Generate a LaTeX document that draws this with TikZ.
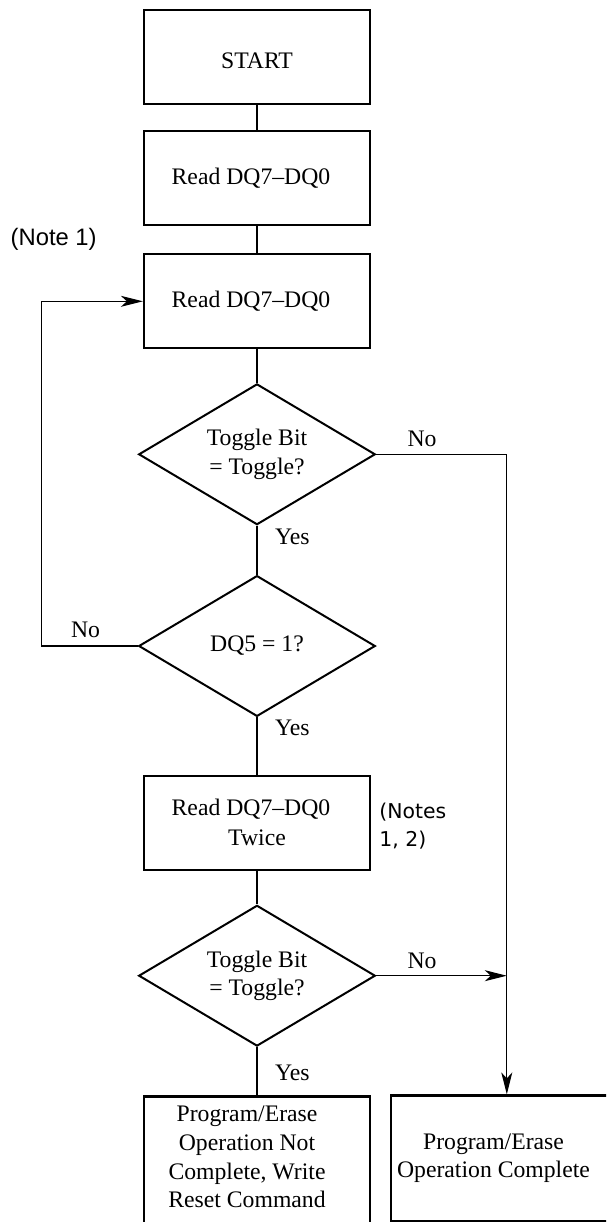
\documentclass[tikz,border=0pt]{standalone}
\usepackage{fontspec}
\setmainfont{Liberation Serif}
\newfontfamily\arialfont{Liberation Sans}
\newfontfamily\dvfont{DejaVu Sans}
\usetikzlibrary{shapes.geometric,arrows.meta}
\begin{document}
\begin{tikzpicture}[x=0.5pt,y=-0.5pt,
  txt/.style={font=\fontsize{11.85pt}{14.3pt}\selectfont, align=center, inner sep=0pt},
  stepbox/.style={txt, draw, line width=1.1pt, minimum width=113pt, minimum height=47pt},
  decision/.style={txt, draw, diamond, line width=1pt, minimum width=118.3pt, minimum height=70.4pt, shape aspect=1.68},
  conn/.style={line width=0.55pt},
  arr/.style={conn, -{Stealth[length=11pt,width=5.5pt,inset=3pt]}},
  lbl/.style={txt},
]
\useasboundingbox (0,0) rectangle (606,1222);
\clip (0,0) rectangle (606,1222);
% boxes
\node[stepbox] (start) at (257,56.7) {\raisebox{-2pt}[\height][\depth]{START}};
\node[stepbox] (read1) at (257,178) {Read DQ7–DQ0\hspace*{6pt}};
\node[stepbox] (read2) at (257,301.3) {Read DQ7–DQ0\hspace*{6pt}};
\node[decision] (d1) at (257,454.3) {Toggle Bit\\= Toggle?};
\node[decision] (d2) at (257,646) {DQ5 = 1?};
\node[stepbox, font=\fontsize{11.85pt}{15pt}\selectfont] (twice) at (257,822.8) {Read DQ7–DQ0\hspace*{6pt}\\Twice};
\node[decision] (d3) at (257,975.7) {Toggle Bit\\= Toggle?};
\node[stepbox, minimum height=71.8pt] (notdone) at (257,1168.2) {};
\node[txt] (notdonet) at (247,1157) {Program/Erase\\Operation Not\\Complete, Write\\Reset Command};
\node[stepbox, minimum width=110.5pt, minimum height=63pt] (done) at (501.5,1158.5) {};
\node[txt] (donet) at (493.5,1158) {Program/Erase\\Operation Complete};
% notes
\node[font=\arialfont\fontsize{11.9pt}{14pt}\selectfont, inner sep=0pt] (note1) at (53.7,239) {(Note 1)};
\node[font=\dvfont\fontsize{10.2pt}{14.15pt}\selectfont, align=left, anchor=west, inner sep=0pt] (notes12) at (379,825.8) {(Notes\\1, 2)};
% connectors
\coordinate (rc) at (506.8,0);
\coordinate (lc) at (41.7,0);
\draw[conn] (start) -- (read1);
\draw[conn] (read1) -- (read2);
\draw[conn] (read2) -- (d1);
\draw[conn] (d1) -- (d2);
\draw[conn] (d2) -- (twice);
\draw[conn] (twice) -- (d3);
\draw[conn] (d3) -- (notdone);
\draw[arr] (d1.east) -- (d1.east -| rc) -- (rc |- done.north);
\draw[arr] (d3.east) -- (d3.east -| rc);
\draw[arr] (d2.west) -- (d2.west -| lc) -- (lc |- read2.west) -- (read2.west);
% labels
\node[lbl] (no1) at (422,438.8) {No};
\node[lbl] (yes1) at (292.3,536.5) {Yes};
\node[lbl] (no2) at (85.6,630) {No};
\node[lbl] (yes2) at (292.3,728.3) {Yes};
\node[lbl] (no3) at (422,961) {No};
\node[lbl] (yes3) at (292.3,1072.7) {Yes};
\end{tikzpicture}
\end{document}
